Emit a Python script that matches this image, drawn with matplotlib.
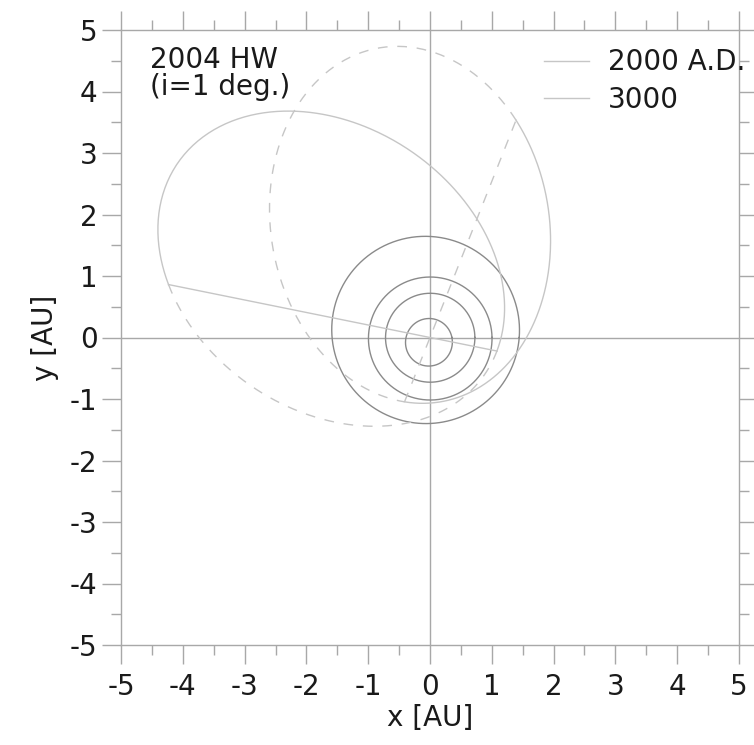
import numpy as np
import matplotlib
matplotlib.use('Agg')
import matplotlib.pyplot as plt
from matplotlib.lines import Line2D
from matplotlib.ticker import MultipleLocator

plt.rcParams['axes.unicode_minus'] = False

# planet orbits (Mercury, Venus, Earth, Mars)
planet_a = [0.387, 0.723, 1.0, 1.524]  # AU
planet_e = [0.206, 0.007, 0.017, 0.093]
planet_peri = [77.5, 131.0, 103.0, 300.0]  # longitude of perihelion, deg

# 2004 HW orbit at two epochs
hw_labels = ['2000 A.D.', '3000']
hw_a = [3.02, 2.92]  # AU
hw_e = [0.646, 0.637]
hw_peri = [325.0, 280.0]  # longitude of perihelion, deg
hw_node = [348.5, 248.5]  # longitude of ascending node, deg

ticks = [-5, -4, -3, -2, -1, 0, 1, 2, 3, 4, 5]

planet_col = '#8a8a8a'
hw_col = '#c6c6c6'
axis_col = '#a8a8a8'
txt_col = '#1a1a1a'


def orbit_xy(a, e, peri, th):
    p = a * (1 - e ** 2)
    r = p / (1 + e * np.cos(th - np.radians(peri)))
    return r * np.cos(th), r * np.sin(th)


fig = plt.figure(figsize=(7.54, 7.45), dpi=100)
ax = fig.add_axes([121 / 754, 1 - 645 / 745, (739 - 121) / 754, (645 - 30) / 745])

ax.axhline(0, color=axis_col, lw=1.0, zorder=1)
ax.axvline(0, color=axis_col, lw=1.0, zorder=1)

th = np.linspace(0, 2 * np.pi, 400)
for a, e, w in zip(planet_a, planet_e, planet_peri):
    x, y = orbit_xy(a, e, w, th)
    ax.plot(x, y, color=planet_col, lw=1.0, zorder=2)

dash = (0, (7, 7))
for i in range(len(hw_labels)):
    node = np.radians(hw_node[i])
    # above the ecliptic: solid, below: dashed
    th_up = np.linspace(node, node + np.pi, 300)
    th_dn = np.linspace(node + np.pi, node + 2 * np.pi, 300)
    xu, yu = orbit_xy(hw_a[i], hw_e[i], hw_peri[i], th_up)
    xd, yd = orbit_xy(hw_a[i], hw_e[i], hw_peri[i], th_dn)
    ax.plot(xu, yu, color=hw_col, lw=1.0, zorder=3)
    ax.plot(xd, yd, color=hw_col, lw=1.0, ls=dash, zorder=3)
    # line of nodes
    ls = '-' if i == 0 else dash
    ax.plot([xu[0], xu[-1]], [yu[0], yu[-1]], color=hw_col, lw=1.0, ls=ls, zorder=3)

ax.set_xlim(-5, 5)
ax.set_ylim(-5, 5)
ax.set_xticks(ticks)
ax.set_yticks(ticks)
ax.xaxis.set_minor_locator(MultipleLocator(0.5))
ax.yaxis.set_minor_locator(MultipleLocator(0.5))
ax.tick_params(which='both', direction='out', color=axis_col, width=1.0,
               top=True, right=True, labelsize=20, labelcolor=txt_col)
ax.tick_params(which='major', length=14)
ax.tick_params(which='minor', length=7)
ax.tick_params(axis='x', pad=6)
ax.tick_params(axis='y', pad=3)
for s in ax.spines.values():
    s.set_color(axis_col)
    s.set_linewidth(1.0)

ax.set_xlabel('x [AU]', fontsize=20, color=txt_col, labelpad=2)
ax.set_ylabel('y [AU]', fontsize=20, color=txt_col, labelpad=8)

ax.text(-4.53, 4.74, '2004 HW\n(i=1 deg.)', fontsize=20, color=txt_col,
        va='top', ha='left', linespacing=0.95)

handles = [Line2D([], [], color=hw_col, lw=1.0) for _ in hw_labels]
ax.legend(handles, hw_labels, loc='upper left', bbox_to_anchor=(0.685, 0.97),
          frameon=False, fontsize=20, handlelength=1.6, handletextpad=0.7,
          labelspacing=0.35, borderpad=0, borderaxespad=0, labelcolor=txt_col)

fig.savefig('out.png', dpi=100)
